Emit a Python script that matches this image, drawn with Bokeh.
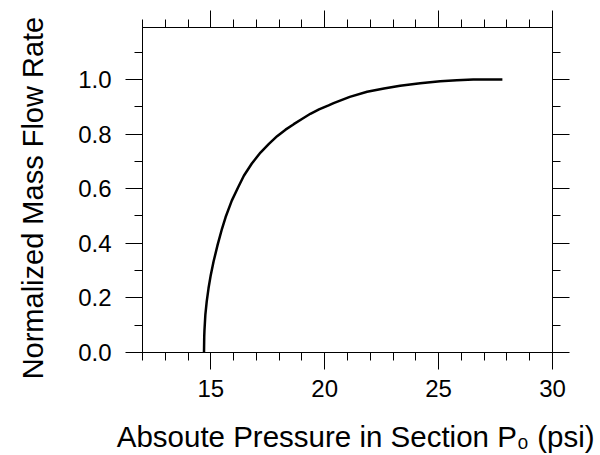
from bokeh.plotting import figure
from bokeh.models import LinearAxis, FixedTicker, NumeralTickFormatter, Range1d
from bokeh.embed import file_html
from bokeh.resources import INLINE

# Data
pressure = [14.70, 14.71, 14.72, 14.76, 14.82, 14.90, 15.00, 15.12, 15.30, 15.49,
            15.65, 15.92, 16.20, 16.45, 16.80, 17.18, 17.55, 17.91, 18.28, 18.64,
            19.00, 19.37, 19.75, 20.17, 20.39, 21.10, 21.86, 22.60, 23.31, 24.19,
            25.07, 25.80, 26.52, 27.20, 27.80]
flow = [0.0, 0.058, 0.08, 0.139, 0.187, 0.236, 0.285, 0.333, 0.395, 0.453,
        0.496, 0.556, 0.605, 0.647, 0.692, 0.732, 0.764, 0.792, 0.816, 0.836,
        0.855, 0.874, 0.890, 0.905, 0.913, 0.936, 0.955, 0.967, 0.977, 0.986,
        0.993, 0.997, 1.0, 1.0, 1.0]

x_ticks = [15, 20, 25, 30]
x_minor = [12, 13, 14, 16, 17, 18, 19, 21, 22, 23, 24, 26, 27, 28, 29]
y_ticks = [0.0, 0.2, 0.4, 0.6, 0.8, 1.0]
y_minor = [0.1, 0.3, 0.5, 0.7, 0.9, 1.1]

x_title = "\u00a0\u00a0Absoute Pressure in Section P\u2080 (psi)"
y_title = "Normalized Mass Flow Rate\u00a0\u00a0"

FONT = "Liberation Sans"

p = figure(width=600, height=455, x_range=Range1d(12, 30), y_range=Range1d(0, 1.19),
           output_backend="svg", toolbar_location=None,
           min_border_left=142, min_border_right=48, min_border_top=27, min_border_bottom=100)
p.grid.visible = False
p.outline_line_color = "black"
p.outline_line_width = 1
p.background_fill_color = "white"
p.border_fill_color = "white"


def style(ax, ticks, minor, labels=True):
    ax.ticker = FixedTicker(ticks=ticks, minor_ticks=minor)
    ax.major_tick_out = 17
    ax.major_tick_in = 0
    ax.minor_tick_out = 8
    ax.minor_tick_in = 0
    ax.axis_line_color = "black"
    ax.major_tick_line_color = "black"
    ax.minor_tick_line_color = "black"
    ax.axis_line_width = 1
    ax.major_tick_line_width = 1
    ax.minor_tick_line_width = 1
    ax.major_label_text_font = FONT
    ax.major_label_text_color = "black"
    ax.axis_label_text_font = FONT
    ax.axis_label_text_color = "black"
    ax.axis_label_text_font_style = "normal"
    if labels:
        ax.major_label_text_font_size = "24px"
    else:
        ax.major_label_text_font_size = "0px"
        ax.major_label_text_alpha = 0
        ax.major_label_standoff = 0


style(p.xaxis[0], x_ticks, x_minor)
p.xaxis[0].formatter = NumeralTickFormatter(format="0")
p.xaxis[0].major_label_standoff = 10
p.xaxis[0].axis_label = x_title
p.xaxis[0].axis_label_text_font_size = "29.5px"
p.xaxis[0].axis_label_standoff = 20

style(p.yaxis[0], y_ticks, y_minor)
p.yaxis[0].formatter = NumeralTickFormatter(format="0.0")
p.yaxis[0].major_label_standoff = 14
p.yaxis[0].axis_label = y_title
p.yaxis[0].axis_label_text_font_size = "29px"
p.yaxis[0].axis_label_standoff = 26

top = LinearAxis()
style(top, x_ticks, x_minor, labels=False)
p.add_layout(top, "above")
right = LinearAxis()
style(right, y_ticks, y_minor, labels=False)
p.add_layout(right, "right")

p.line(pressure, flow, line_color="black", line_width=2.5)

open("out.html", "w").write(file_html(p, INLINE))
